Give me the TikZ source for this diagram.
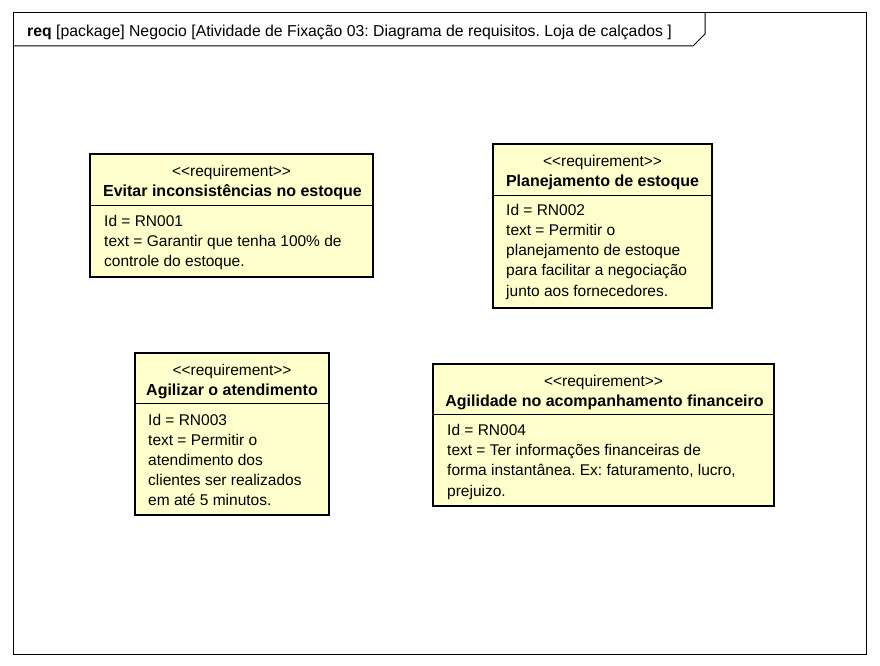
\documentclass[tikz,border=0pt]{standalone}
\usepackage{fontspec}
\setmainfont{Liberation Sans}
\frenchspacing
\definecolor{reqfill}{HTML}{FFFFCC}
\tikzset{
  reqbox/.style={draw=black, line width=2.4pt, fill=reqfill, rectangle, inner sep=0pt},
  stereo/.style={anchor=base, inner sep=0pt, font=\fontsize{15.5}{20}\selectfont},
  reqname/.style={anchor=base, inner sep=0pt, font=\fontsize{16}{20}\selectfont\bfseries},
  body/.style={anchor=base west, inner sep=0pt, font=\fontsize{15.5}{20}\selectfont},
  header/.style={anchor=base west, inner sep=0pt, font=\fontsize{15.8}{20}\selectfont},
  divider/.style={line width=0.9pt},
  framel/.style={line width=1pt}
}
\begin{document}
\begin{tikzpicture}[x=1pt,y=-1pt]
\useasboundingbox (0,0) rectangle (880,666);
% frame
\coordinate (ftl) at (13,13);
\coordinate (fbr) at (866,654);
\draw[framel] (ftl) rectangle (fbr);
\coordinate (tab1) at (13,46);
\coordinate (tab2) at (693,46);
\coordinate (tab3) at (705,34);
\coordinate (tab4) at (705,13);
\draw[framel] (tab1) -- (tab2) -- (tab3) -- (tab4);
\node[header] (hdr) at (27,37) {{\bfseries req} [package] Negocio [Atividade de Fixação 03: Diagrama de requisitos. Loja de calçados ]};

% box 1
\node[reqbox, minimum width=283, minimum height=123] (b1) at (231.5,215.5) {};
\node[stereo] (b1s) at (231.5,176) {<{}<requirement>{}>};
\node[reqname] (b1n) at (232.5,196) {Evitar inconsistências no estoque};
\draw[divider] (b1.west |- 0,205.5) -- (b1.east |- 0,205.5);
\node[body] (b1a) at (104,226) {Id = RN001};
\node[body] (b1b) at (104,246) {text = Garantir que tenha 100\% de};
\node[body] (b1c) at (104,266) {controle do estoque.};

% box 2
\node[reqbox, minimum width=219, minimum height=164] (b2) at (602.5,226) {};
\node[stereo] (b2s) at (602.5,166) {<{}<requirement>{}>};
\node[reqname] (b2n) at (602.5,186) {Planejamento de estoque};
\draw[divider] (b2.west |- 0,195) -- (b2.east |- 0,195);
\node[body] (b2a) at (506,215.5) {Id = RN002};
\node[body] (b2b) at (506,235.5) {text = Permitir o};
\node[body] (b2c) at (506,255.5) {planejamento de estoque};
\node[body] (b2d) at (506,275.5) {para facilitar a negociação};
\node[body] (b2e) at (506,296) {junto aos fornecedores.};

% box 3
\node[reqbox, minimum width=194, minimum height=162] (b3) at (232,434) {};
\node[stereo] (b3s) at (232,375) {<{}<requirement>{}>};
\node[reqname] (b3n) at (232,395) {Agilizar o atendimento};
\draw[divider] (b3.west |- 0,403) -- (b3.east |- 0,403);
\node[body] (b3a) at (148,425) {Id = RN003};
\node[body] (b3b) at (148,445) {text = Permitir o};
\node[body] (b3c) at (148,465) {atendimento dos};
\node[body] (b3d) at (148,485) {clientes ser realizados};
\node[body] (b3e) at (148,505) {em até 5 minutos.};

% box 4
\node[reqbox, minimum width=341, minimum height=142] (b4) at (603.5,435) {};
\node[stereo] (b4s) at (603.5,386) {<{}<requirement>{}>};
\node[reqname] (b4n) at (604.5,406) {Agilidade no acompanhamento financeiro};
\draw[divider] (b4.west |- 0,414.5) -- (b4.east |- 0,414.5);
\node[body] (b4a) at (447,435.5) {Id = RN004};
\node[body] (b4b) at (447,455.5) {text = Ter informações financeiras de};
\node[body] (b4c) at (447,475.5) {forma instantânea. Ex: faturamento, lucro,};
\node[body] (b4d) at (447,496) {prejuizo.};
\end{tikzpicture}
\end{document}
